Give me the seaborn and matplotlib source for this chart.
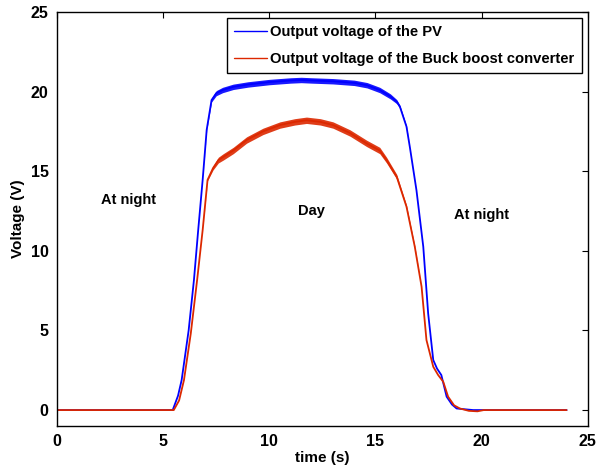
import matplotlib
matplotlib.use("Agg")
import matplotlib.pyplot as plt
import seaborn as sns
import numpy as np
import pandas as pd

# ---- data ----
pv_t = [0, 5.45, 5.7, 5.87, 6.2, 6.45, 6.65, 6.86, 7.05, 7.28, 7.5, 7.8, 8.3, 9, 10, 11, 11.5, 12, 13,
        14, 14.6, 15.2, 15.7, 16.0, 16.15, 16.46, 16.62, 16.93, 17.25, 17.48, 17.72, 17.9, 18.1, 18.35,
        18.6, 18.82, 19.2, 19.6, 20, 24]
pv_v = [0, 0, 0.9, 1.88, 5.0, 8.17, 11.3, 14.45, 17.6, 19.47, 19.9, 20.1, 20.3, 20.45, 20.6, 20.7, 20.73,
        20.7, 20.65, 20.55, 20.4, 20.1, 19.7, 19.37, 19.05, 17.8, 16.5, 13.8, 10.26, 6.07, 3.14, 2.6, 2.2,
        0.84, 0.35, 0.1, 0.05, 0, 0, 0]
pv_ripple = [0, 0, 0, 0, 0, 0, 0, 0, 0.05, 0.12, 0.16, 0.17, 0.17, 0.17, 0.17, 0.17, 0.17, 0.17, 0.17,
             0.17, 0.17, 0.17, 0.16, 0.13, 0.1, 0.05, 0, 0, 0, 0, 0, 0, 0, 0, 0, 0, 0, 0, 0, 0]

bb_t = [0, 5.5, 5.75, 5.98, 6.3, 6.6, 6.86, 7.09, 7.35, 7.6, 7.83, 8.3, 8.93, 9.7, 10.5, 11.2, 11.75,
        12.4, 13.0, 13.8, 14.58, 15.2, 15.52, 16.0, 16.46, 16.85, 17.17, 17.4, 17.72, 17.95, 18.19, 18.42,
        18.7, 18.97, 19.4, 19.8, 20.1, 24]
bb_v = [0, 0, 0.6, 1.88, 4.8, 8.17, 11.3, 14.45, 15.2, 15.7, 15.9, 16.3, 16.96, 17.5, 17.9, 18.1, 18.2,
        18.1, 17.9, 17.4, 16.75, 16.3, 15.7, 14.65, 12.77, 10.26, 7.75, 4.4, 2.72, 2.2, 1.78, 0.84, 0.3,
        0.1, -0.05, -0.08, 0, 0]
bb_ripple = [0, 0, 0, 0, 0, 0, 0, 0.05, 0.12, 0.18, 0.2, 0.2, 0.2, 0.2, 0.2, 0.2, 0.2, 0.2, 0.2, 0.2,
             0.2, 0.2, 0.18, 0.15, 0.1, 0.05, 0, 0, 0, 0, 0, 0, 0, 0, 0, 0, 0, 0]

series_names = ["Output voltage of the PV", "Output voltage of the Buck boost converter"]
annotations = [("At night", 3.35, 13.2), ("Day", 12.0, 12.5), ("At night", 20.0, 12.25)]
x_ticks = [0, 5, 10, 15, 20, 25]
y_ticks = [0, 5, 10, 15, 20, 25]

# ---- build table ----
df = pd.concat([
    pd.DataFrame({"t": pv_t, "v": pv_v, "series": series_names[0]}),
    pd.DataFrame({"t": bb_t, "v": bb_v, "series": series_names[1]}),
], ignore_index=True)

sns.set_style("white")
plt.rcParams["font.family"] = ["Liberation Sans", "DejaVu Sans"]
plt.rcParams["font.weight"] = "bold"
plt.rcParams["text.color"] = "black"
plt.rcParams["axes.labelcolor"] = "black"
plt.rcParams["xtick.color"] = "black"
plt.rcParams["ytick.color"] = "black"

colors = {series_names[0]: "#0000ff", series_names[1]: "#dc2800"}

fig = plt.figure(figsize=(5.98, 4.74), dpi=100)
ax = fig.add_axes([0.0953, 0.1013, 0.8877, 0.8734])

sns.lineplot(data=df, x="t", y="v", hue="series", palette=colors, estimator=None, sort=False,
             linewidth=1.3, ax=ax)

ax.fill_between(pv_t, np.array(pv_v) - np.array(pv_ripple), np.array(pv_v) + np.array(pv_ripple),
                color=colors[series_names[0]], lw=0, alpha=0.9)
ax.fill_between(bb_t, np.array(bb_v) - np.array(bb_ripple), np.array(bb_v) + np.array(bb_ripple),
                color=colors[series_names[1]], lw=0, alpha=0.9)

ax.set_xlim(0, 25)
ax.set_ylim(-1, 25)
ax.set_xticks(x_ticks)
ax.set_yticks(y_ticks)
ax.tick_params(direction="in", length=4, width=0.8, top=True, right=True, labelsize=11.5, pad=6,
               colors="black")
for lab in ax.get_xticklabels() + ax.get_yticklabels():
    lab.set_fontweight("bold")
for s in ax.spines.values():
    s.set_linewidth(1.0)
    s.set_color("black")

ax.set_xlabel("time (s)", fontsize=11, fontweight="bold", labelpad=1, color="black")
ax.set_ylabel("Voltage (V)", fontsize=11, fontweight="bold", labelpad=4, color="black")

for txt, x, y in annotations:
    ax.text(x, y, txt, ha="center", va="center", fontsize=10.5, fontweight="bold", color="black")

leg = ax.legend(loc="upper right", fontsize=10.6, frameon=True, fancybox=False, handlelength=2.2,
                borderpad=0.5, labelspacing=0.85, handletextpad=0.25, borderaxespad=0.4)
leg.get_frame().set_edgecolor("black")
leg.get_frame().set_linewidth(1.0)
leg.get_frame().set_alpha(1.0)
for t in leg.get_texts():
    t.set_fontweight("bold")
    t.set_color("black")
for h in leg.get_lines():
    h.set_linewidth(1.0)

fig.savefig("out.png", dpi=100)
